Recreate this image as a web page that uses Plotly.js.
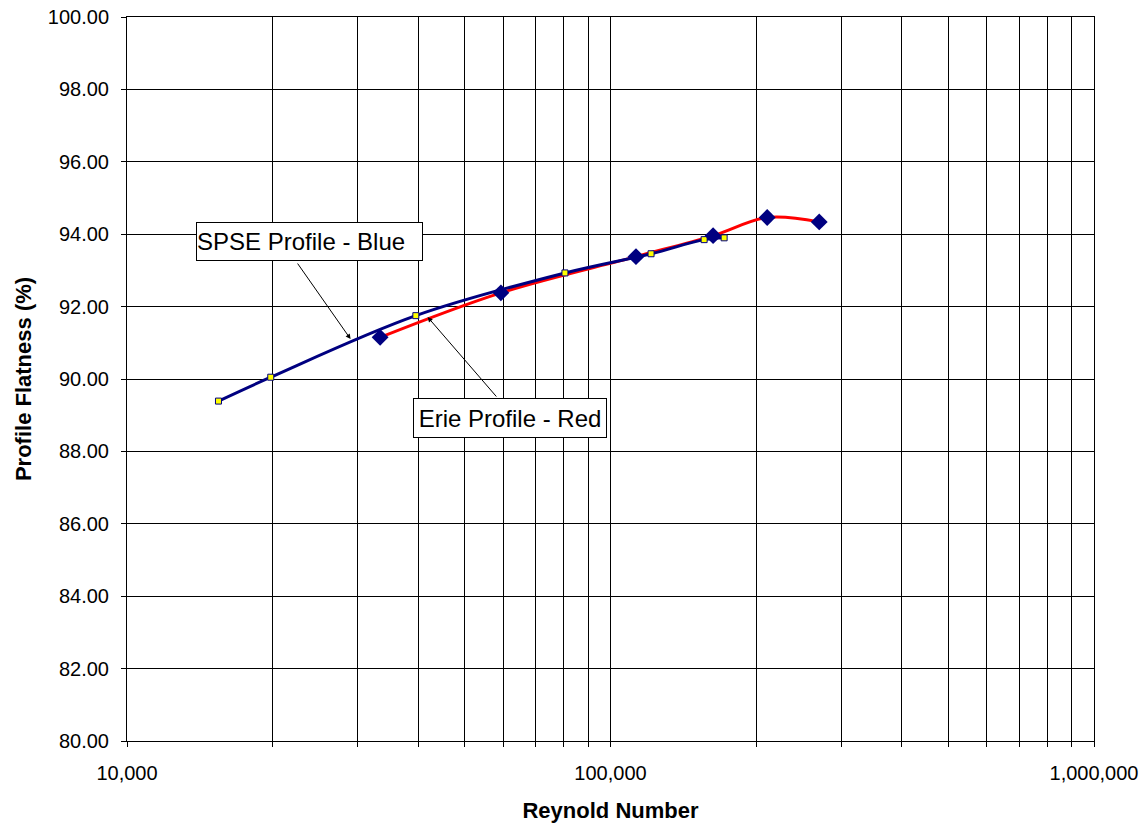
<!DOCTYPE html>
<html>
<head>
<meta charset="utf-8">
<script src="https://cdn.plot.ly/plotly-3.0.1.min.js"></script>
<style>html,body{margin:0;padding:0;background:#fff;}#chart{width:1143px;height:825px;}</style>
</head>
<body>
<div id="chart"></div>
<script>
// SPSE profile (blue line, yellow square markers)
const spseRe = [15460, 19830, 39570, 80500, 121300, 156200, 171800];
const spseFlat = [89.39, 90.05, 91.75, 92.93, 93.46, 93.85, 93.90];

// Erie profile (red line, navy diamond markers)
const erieRe = [33380, 59340, 112900, 163000, 210900, 270200];
const erieFlat = [91.15, 92.38, 93.38, 93.96, 94.46, 94.34];

// Axis ticks
const xTickVals = [10000,20000,30000,40000,50000,60000,70000,80000,90000,
                   100000,200000,300000,400000,500000,600000,700000,800000,900000,1000000];
const xTickText = ['10,000','','','','','','','','',
                   '100,000','','','','','','','','',
                   '1,000,000'];

const FONT = 'Arial, "Liberation Sans", sans-serif';

const traces = [
  {x: erieRe, y: erieFlat, type: 'scatter', mode: 'lines',
   line: {color: '#FF0000', width: 3, shape: 'spline', smoothing: 1},
   hoverinfo: 'skip', showlegend: false},
  {x: spseRe, y: spseFlat, type: 'scatter', mode: 'lines+markers',
   line: {color: '#000080', width: 3, shape: 'spline', smoothing: 1},
   marker: {symbol: 'square', size: 6, color: '#FFFF00', line: {color: '#000080', width: 1}},
   showlegend: false},
  {x: erieRe, y: erieFlat, type: 'scatter', mode: 'markers',
   marker: {symbol: 'diamond', size: 13, color: '#000080', line: {width: 0}},
   showlegend: false}
];

const layout = {
  width: 1143, height: 825,
  margin: {l: 127, r: 49, t: 17, b: 84},
  paper_bgcolor: '#ffffff', plot_bgcolor: '#ffffff',
  font: {family: FONT, size: 20, color: '#000'},
  showlegend: false,
  xaxis: {
    type: 'log', range: [4, 6],
    tickmode: 'array', tickvals: xTickVals, ticktext: xTickText,
    showgrid: true, gridcolor: '#000', gridwidth: 1,
    showline: true, linecolor: '#000', linewidth: 1, mirror: true,
    ticks: 'outside', ticklen: 5, tickcolor: '#000',
    ticklabelstandoff: 9,
    tickfont: {family: FONT, size: 20, color: '#000'},
    zeroline: false,
    title: {text: 'Reynold Number', font: {family: FONT, size: 22, color: '#000', weight: 'bold'}, standoff: 19}
  },
  yaxis: {
    range: [80, 100], dtick: 2, tick0: 80, tickformat: '.2f',
    showgrid: true, gridcolor: '#000', gridwidth: 1,
    showline: true, linecolor: '#000', linewidth: 1, mirror: true,
    ticks: 'outside', ticklen: 5, tickcolor: '#000',
    ticklabelstandoff: 8,
    tickfont: {family: FONT, size: 20, color: '#000'},
    zeroline: false,
    title: {text: 'Profile Flatness (%)', font: {family: FONT, size: 22, color: '#000', weight: 'bold'}, standoff: 10}
  },
  annotations: [
    {xref: 'paper', yref: 'paper', x: 0.2312, y: 0.5552, text: '', showarrow: true,
     axref: 'pixel', ayref: 'pixel', ax: -54, ay: -77,
     arrowhead: 2, arrowsize: 1, arrowwidth: 1, arrowcolor: '#000'},
    {xref: 'paper', yref: 'paper', x: 0.3109, y: 0.5856, text: '', showarrow: true,
     axref: 'pixel', ayref: 'pixel', ax: 70, ay: 81,
     arrowhead: 2, arrowsize: 1, arrowwidth: 1, arrowcolor: '#000'},
    {xref: 'paper', yref: 'paper', x: 0.1883, y: 0.6899, xanchor: 'center', yanchor: 'middle',
     text: 'SPSE Profile - Blue', showarrow: false, align: 'left',
     width: 225, height: 37, borderpad: 0, bordercolor: '#000', borderwidth: 1, bgcolor: '#fff',
     font: {family: FONT, size: 24, color: '#000'}},
    {xref: 'paper', yref: 'paper', x: 0.3957, y: 0.4461, xanchor: 'center', yanchor: 'middle',
     text: 'Erie Profile - Red', showarrow: false, align: 'center',
     width: 192, height: 38, borderpad: 0, bordercolor: '#000', borderwidth: 1, bgcolor: '#fff',
     font: {family: FONT, size: 24, color: '#000'}}
  ]
};

Plotly.newPlot('chart', traces, layout, {displayModeBar: false, staticPlot: true});
</script>
</body>
</html>
